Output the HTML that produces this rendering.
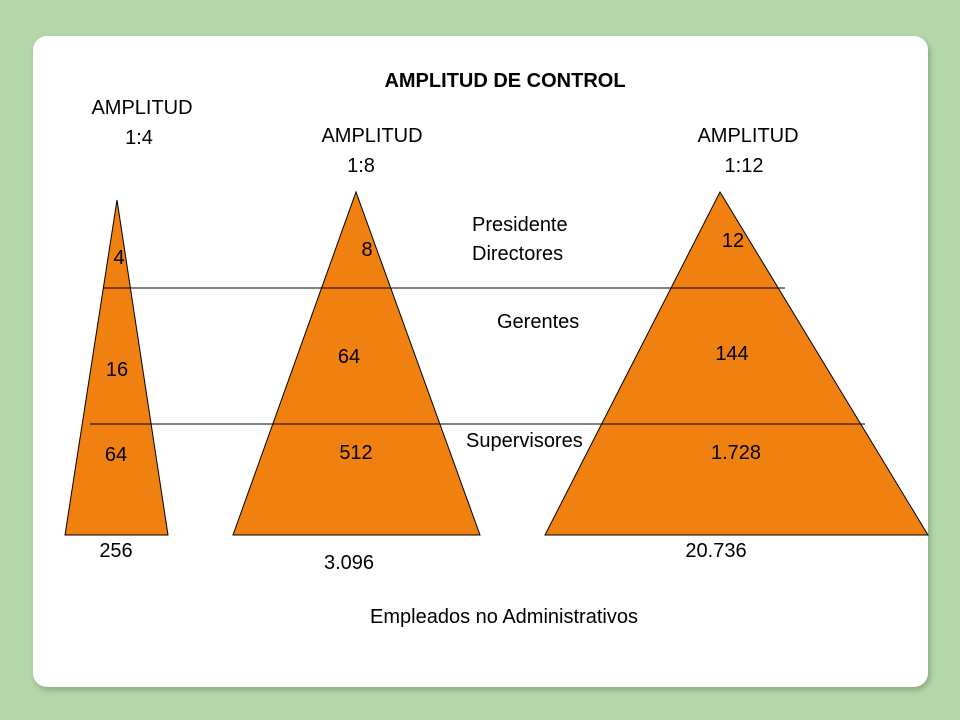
<!DOCTYPE html>
<html><head><meta charset="utf-8"><style>
html,body{margin:0;padding:0;background:#b4d6aa;width:960px;height:720px;overflow:hidden}
svg{display:block}
text{font-family:"Liberation Sans",Arial,sans-serif;font-size:20px;fill:#000}
</style></head><body>
<svg id="s" width="960" height="720">
<defs><filter id="sh" x="-5%" y="-5%" width="110%" height="110%"><feDropShadow dx="2" dy="3" stdDeviation="3" flood-color="#6a8a60" flood-opacity="0.6"/></filter></defs>
<rect x="33" y="36" width="895" height="651" rx="14" fill="#fff" filter="url(#sh)"/>
<g id="tri"></g>
<g id="lines"></g>
<g id="labels">
<text x="505" y="87" text-anchor="middle" font-weight="bold" style="font-weight:bold">AMPLITUD DE CONTROL</text>
<text x="142" y="114" text-anchor="middle">AMPLITUD</text>
<text x="139" y="144" text-anchor="middle">1:4</text>
<text x="372" y="142" text-anchor="middle">AMPLITUD</text>
<text x="361" y="172" text-anchor="middle">1:8</text>
<text x="748" y="142" text-anchor="middle">AMPLITUD</text>
<text x="744" y="172" text-anchor="middle">1:12</text>
<text x="472" y="231">Presidente</text>
<text x="472" y="260">Directores</text>
<text x="497" y="328">Gerentes</text>
<text x="466" y="447">Supervisores</text>
<text x="504" y="623" text-anchor="middle">Empleados no Administrativos</text>
</g>
</svg>
<script>
const pyramids=["1:4","1:8","1:12"];
const apexX=[117,356,720];
const apexY=[200,192,192];
const baseL=[65,233,545];
const baseR=[168,480,928];
const levelVals=[["4","16","64","256"],["8","64","512","3.096"],["12","144","1.728","20.736"]];
const levelPos=[[[119,264],[117,376],[116,461],[116,557]],[[367,256],[349,363],[356,459],[349,569]],[[733,247],[732,360],[736,459],[716,557]]];
const dividers=[[103,785,288],[90,865,424]];
const NS="http://www.w3.org/2000/svg";
const tri=document.getElementById('tri'),ln=document.getElementById('lines'),lb=document.getElementById('labels');
pyramids.forEach((p,i)=>{
 const pg=document.createElementNS(NS,'polygon');
 pg.setAttribute('points',`${apexX[i]},${apexY[i]} ${baseR[i]},535 ${baseL[i]},535`);
 pg.setAttribute('fill','#f08010');pg.setAttribute('stroke','#000');pg.setAttribute('stroke-width','1');
 
 
 tri.appendChild(pg);
 levelVals[i].forEach((v,j)=>{
  const t=document.createElementNS(NS,'text');
  t.setAttribute('x',levelPos[i][j][0]);t.setAttribute('y',levelPos[i][j][1]);
  t.setAttribute('text-anchor','middle');t.textContent=v;
  
  
  lb.appendChild(t);
 });
});
dividers.forEach(d=>{
 const l=document.createElementNS(NS,'line');
 l.setAttribute('x1',d[0]);l.setAttribute('x2',d[1]);l.setAttribute('y1',d[2]);l.setAttribute('y2',d[2]);
 l.setAttribute('stroke','#000');l.setAttribute('stroke-width','1');
 
 
 ln.appendChild(l);
});
</script>
</body></html>
